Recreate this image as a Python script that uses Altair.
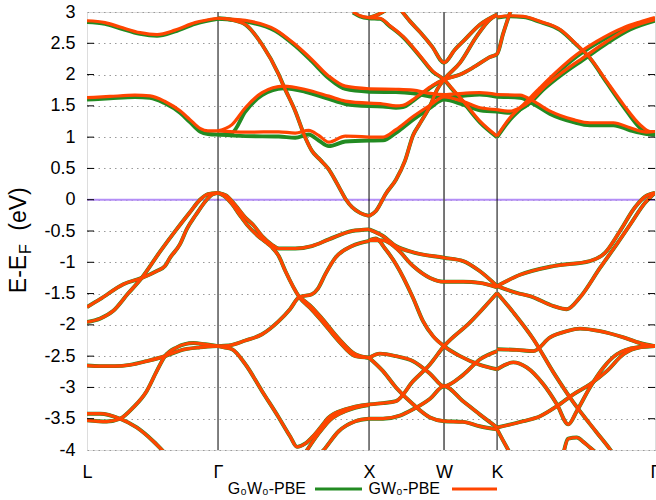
import altair as alt
import pandas as pd

# ---------------- axes / labels ----------------
sym_k = [0.0, 0.872, 1.877, 2.376, 2.729, 3.78]
sym_lab = ["L", "Γ", "X", "W", "K", "Γ"]
y_ticks = [-4, -3.5, -3, -2.5, -2, -1.5, -1, -0.5, 0, 0.5, 1, 1.5, 2, 2.5, 3]
series_names = ["G₀W₀-PBE", "GW₀-PBE"]

# ---------------- bands (k, E_GW0, E_G0W0) ----------------
lg_c1_k = [0, 0.120, 0.220, 0.353, 0.466, 0.586, 0.719, 0.872]
lg_c1_gw = [2.86, 2.83, 2.76, 2.67, 2.64, 2.71, 2.83, 2.90]
lg_c1_g0 = [2.84, 2.81, 2.74, 2.65, 2.62, 2.69, 2.81, 2.89]

lg_c2_k = [0, 0.153, 0.319, 0.419, 0.519, 0.619, 0.685, 0.752, 0.805, 0.872]
lg_c2_gw = [1.63, 1.65, 1.67, 1.66, 1.57, 1.42, 1.28, 1.14, 1.10, 1.10]
lg_c2_g0 = [1.60, 1.62, 1.64, 1.63, 1.54, 1.39, 1.24, 1.09, 1.05, 1.04]

lg_v1_k = [0, 0.087, 0.173, 0.273, 0.364, 0.486, 0.597, 0.685, 0.752, 0.805, 0.872]
lg_v1_e = [-1.955, -1.90, -1.78, -1.50, -1.25, -0.83, -0.47, -0.20, 0.0, 0.09, 0.11]

lg_v2_k = [0, 0.087, 0.242, 0.364, 0.464, 0.519, 0.552, 0.619, 0.664, 0.725, 0.797, 0.832, 0.872]
lg_v2_e = [-1.716, -1.59, -1.35, -1.25, -1.14, -1.06, -0.93, -0.71, -0.47, -0.24, 0.0, 0.08, 0.11]

lg_v3_k = [0, 0.087, 0.186, 0.286, 0.397, 0.519, 0.619, 0.752, 0.872]
lg_v3_e = [-2.65, -2.66, -2.66, -2.64, -2.58, -2.50, -2.41, -2.36, -2.34]

lg_v4_k = [0, 0.131, 0.220, 0.308, 0.397, 0.464, 0.519, 0.597, 0.707, 0.785, 0.872]
lg_v4_e = [-3.525, -3.545, -3.50, -3.32, -3.06, -2.74, -2.50, -2.36, -2.29, -2.31, -2.34]

lg_v5_k = [0, 0.087, 0.220, 0.331, 0.441, 0.519]
lg_v5_e = [-3.42, -3.42, -3.50, -3.64, -3.86, -4.05]

gx_c1_k = [0.872, 1.054, 1.253, 1.386, 1.497, 1.609, 1.719, 1.877]
gx_c1_gw = [2.90, 2.865, 2.72, 2.48, 2.24, 1.975, 1.815, 1.773]
gx_c1_g0 = [2.89, 2.85, 2.70, 2.46, 2.21, 1.94, 1.77, 1.725]

gx_c2_k = [0.872, 0.952, 1.054, 1.165, 1.276, 1.309, 1.386, 1.453, 1.497, 1.551, 1.604,
           1.650, 1.684, 1.724, 1.764, 1.817, 1.877]
gx_c2_e = [2.90, 2.88, 2.80, 2.48, 2.00, 1.815, 1.415, 0.99, 0.78, 0.64, 0.50,
           0.32, 0.17, 0.0, -0.12, -0.21, -0.26]

gx_c3_k = [0.872, 0.965, 1.054, 1.165, 1.309, 1.453, 1.609, 1.719, 1.877]
gx_c3_gw = [1.10, 1.20, 1.47, 1.71, 1.815, 1.762, 1.655, 1.575, 1.543]
gx_c3_g0 = [1.04, 1.07, 1.41, 1.67, 1.78, 1.725, 1.61, 1.53, 1.495]

gx_c4_k = [0.872, 1.054, 1.276, 1.386, 1.475, 1.542, 1.609, 1.719, 1.877]
gx_c4_gw = [1.10, 1.08, 1.085, 1.065, 1.107, 1.027, 0.92, 1.016, 1.0]
gx_c4_g0 = [1.04, 1.016, 1.01, 0.99, 1.043, 0.947, 0.856, 0.93, 0.947]

gx_v1_k = [0.872, 0.925, 0.985, 1.052, 1.105, 1.165, 1.231, 1.276, 1.386, 1.497, 1.609, 1.764, 1.877]
gx_v1_e = [0.11, 0.07, -0.08, -0.28, -0.40, -0.58, -0.72, -0.78, -0.78, -0.74, -0.634, -0.50, -0.475]

gx_v2_k = [0.872, 0.912, 0.965, 1.018, 1.065, 1.138, 1.191, 1.231, 1.276, 1.320, 1.413, 1.497,
           1.564, 1.675, 1.786, 1.877]
gx_v2_e = [0.11, 0.06, -0.07, -0.25, -0.40, -0.58, -0.68, -0.76, -0.90, -1.14, -1.556, -1.76,
           -1.94, -2.26, -2.50, -2.525]

gx_v3_k = [0.872, 0.943, 1.054, 1.165, 1.276, 1.351, 1.413, 1.497, 1.537, 1.586, 1.652, 1.764, 1.877]
gx_v3_e = [-2.34, -2.33, -2.25, -2.15, -1.94, -1.75, -1.556, -1.51, -1.42, -1.19, -0.93, -0.74, -0.66]

gx_v4_k = [1.413, 1.497, 1.564, 1.675, 1.786, 1.877]
gx_v4_e = [-1.556, -1.72, -1.90, -2.22, -2.47, -2.525]

gx_v5_k = [0.872, 0.912, 0.965, 1.054, 1.165, 1.276, 1.351, 1.398, 1.451, 1.497, 1.551, 1.609, 1.719, 1.877]
gx_v5_e = [-2.34, -2.36, -2.39, -2.63, -3.06, -3.48, -3.78, -3.95, -3.90, -3.80, -3.65, -3.48, -3.35, -3.27]

gx_v6_k = [1.451, 1.537, 1.617, 1.717, 1.877]
gx_v6_e = [-4.05, -3.75, -3.52, -3.38, -3.28]

gx_v7_k = [1.537, 1.575, 1.675, 1.786, 1.877]
gx_v7_e = [-4.1, -4.0, -3.70, -3.54, -3.50]

xw_c5_k = [1.770, 1.817, 1.877, 1.950, 2.016, 2.103, 2.216, 2.303, 2.376, 2.429, 2.503, 2.613, 2.729]
xw_c5_gw = [3.0, 2.94, 2.91, 2.90, 2.78, 2.61, 2.30, 2.05, 1.92, 1.78, 1.58, 1.26, 1.016]
xw_c5_g0 = [2.99, 2.93, 2.90, 2.89, 2.77, 2.60, 2.29, 2.04, 1.92, 1.77, 1.56, 1.24, 1.00]

xw_hump_k = [1.877, 1.970, 2.056, 2.170, 2.283, 2.376, 2.503, 2.616, 2.729]
xw_hump_gw = [1.0, 1.0, 1.12, 1.33, 1.51, 1.645, 1.57, 1.47, 1.44]
xw_hump_g0 = [0.947, 0.95, 1.07, 1.28, 1.47, 1.60, 1.52, 1.43, 1.41]

xw_c2_k = [1.877, 2.056, 2.170, 2.283, 2.376, 2.503, 2.613, 2.729]
xw_c2_gw = [1.773, 1.765, 1.75, 1.70, 1.68, 1.70, 1.71, 1.68]
xw_c2_g0 = [1.725, 1.72, 1.70, 1.65, 1.63, 1.66, 1.68, 1.645]

xw_c3_k = [1.877, 1.970, 2.056, 2.103, 2.170, 2.236, 2.303, 2.376, 2.483, 2.582, 2.682, 2.729,
           2.769, 2.815, 2.837]
xw_c3_gw = [1.543, 1.53, 1.50, 1.51, 1.60, 1.72, 1.83, 1.92, 2.00, 2.13, 2.28, 2.33, 2.65, 2.99, 3.15]
xw_c3_g0 = [1.495, 1.49, 1.47, 1.48, 1.58, 1.70, 1.82, 1.92, 2.00, 2.13, 2.28, 2.33, 2.65, 2.99, 3.15]

xw_c4_k = [1.877, 1.923, 1.990, 2.056, 2.116, 2.170, 2.216, 2.283, 2.330, 2.376, 2.483, 2.593, 2.682, 2.729]
xw_c4_e = [-0.26, -0.18, 0.10, 0.32, 0.62, 1.03, 1.22, 1.50, 1.76, 1.92, 2.19, 2.61, 2.88, 2.95]

xw_v_k = [2.083, 2.150, 2.216, 2.296, 2.376, 2.449, 2.503, 2.616, 2.729]
xw_v_e = [3.05, 2.85, 2.68, 2.45, 2.19, 2.40, 2.53, 2.80, 2.96]

xw_top_k = [1.877, 1.937, 1.990]
xw_top_e = [2.91, 2.96, 3.03]

kg_top_k = [2.729, 2.815, 2.904, 3.015, 3.149, 3.259, 3.347, 3.459, 3.570, 3.680, 3.747, 3.780]
kg_top_gw = [2.92, 2.94, 2.93, 2.85, 2.72, 2.48, 2.27, 1.89, 1.52, 1.20, 1.09, 1.09]
kg_top_g0 = [2.91, 2.93, 2.92, 2.84, 2.71, 2.47, 2.26, 1.87, 1.49, 1.15, 1.05, 1.04]

kg_c2_k = [2.729, 2.882, 2.971, 3.082, 3.237, 3.347, 3.503, 3.614, 3.725, 3.780]
kg_c2_gw = [1.68, 1.67, 1.575, 1.415, 1.28, 1.23, 1.23, 1.15, 1.08, 1.09]
kg_c2_g0 = [1.645, 1.63, 1.53, 1.37, 1.24, 1.19, 1.19, 1.11, 1.05, 1.04]

kg_a_k = [2.729, 2.815, 2.904, 3.015, 3.127, 3.259, 3.392, 3.570, 3.680, 3.780]
kg_a_gw = [1.016, 1.31, 1.52, 1.79, 2.05, 2.32, 2.53, 2.75, 2.84, 2.91]
kg_a_g0 = [1.00, 1.28, 1.49, 1.76, 2.02, 2.29, 2.50, 2.72, 2.82, 2.89]

kg_b_k = [2.729, 2.815, 2.882, 2.948, 3.037, 3.171, 3.303, 3.459, 3.614, 3.780]
kg_b_gw = [1.44, 1.415, 1.47, 1.575, 1.79, 2.05, 2.27, 2.53, 2.75, 2.88]
kg_b_g0 = [1.41, 1.39, 1.44, 1.545, 1.76, 2.02, 2.24, 2.50, 2.72, 2.86]

xw_v1_k = [1.877, 1.970, 2.056, 2.170, 2.376, 2.503, 2.613, 2.729]
xw_v1_e = [-0.475, -0.58, -0.74, -0.84, -0.927, -0.98, -1.14, -1.38]

xw_v2_k = [1.877, 1.970, 2.056, 2.170, 2.283, 2.376, 2.503, 2.613, 2.729]
xw_v2_e = [-0.65, -0.65, -0.77, -1.06, -1.25, -1.31, -1.31, -1.33, -1.40]

xw_d_k = [1.877, 1.923, 1.983, 2.056, 2.170, 2.236, 2.303, 2.376, 2.483, 2.616, 2.729]
xw_d_e = [-0.65, -0.62, -0.78, -1.03, -1.57, -1.94, -2.18, -2.34, -2.50, -2.64, -2.71]

xw_r_k = [1.877, 1.970, 2.056, 2.170, 2.283, 2.376, 2.549, 2.729]
xw_r_e = [-3.27, -3.25, -3.22, -2.90, -2.63, -2.34, -1.96, -1.49]

xw_h2_k = [1.877, 1.950, 2.056, 2.170, 2.283, 2.376, 2.503, 2.616, 2.729]
xw_h2_e = [-2.525, -2.46, -2.50, -2.58, -2.78, -2.98, -2.80, -2.55, -2.42]

xw_ds_k = [1.877, 1.970, 2.056, 2.170, 2.283, 2.376, 2.503, 2.613, 2.729]
xw_ds_e = [-2.525, -2.74, -3.0, -3.27, -3.48, -3.54, -3.55, -3.62, -3.67]

xw_lo_k = [1.877, 1.970, 2.083, 2.170, 2.283, 2.376, 2.503, 2.613, 2.729]
xw_lo_e = [-3.50, -3.50, -3.45, -3.35, -3.18, -2.98, -3.22, -3.43, -3.64]

kg_v1_k = [2.729, 2.882, 3.104, 3.347, 3.447, 3.547, 3.647, 3.714, 3.780]
kg_v1_e = [-1.38, -1.20, -1.06, -0.98, -0.85, -0.50, -0.12, 0.05, 0.11]

kg_v2_k = [2.729, 2.860, 2.948, 3.104, 3.193, 3.281, 3.414, 3.526, 3.614, 3.714, 3.780]
kg_v2_e = [-1.38, -1.49, -1.54, -1.70, -1.75, -1.56, -1.09, -0.71, -0.40, -0.05, 0.11]

kg_v3_k = [2.729, 2.837, 2.971, 3.104, 3.237, 3.392, 3.481, 3.514]
kg_v3_e = [-1.49, -1.80, -2.23, -2.76, -3.24, -3.72, -3.99, -4.1]

kg_v4_k = [2.729, 2.860, 2.971, 3.082, 3.193, 3.281, 3.414, 3.570, 3.680, 3.780]
kg_v4_e = [-2.39, -2.40, -2.42, -2.20, -2.10, -2.06, -2.10, -2.20, -2.29, -2.34]

kg_v5_k = [2.729, 2.837, 2.926, 3.037, 3.127, 3.203, 3.259, 3.347, 3.437, 3.526, 3.659, 3.780]
kg_v5_e = [-2.71, -2.60, -2.68, -2.95, -3.27, -3.59, -3.38, -3.00, -2.68, -2.47, -2.36, -2.34]

kg_v6_k = [2.729, 2.904, 3.015, 3.127, 3.237, 3.347, 3.459, 3.570, 3.680, 3.780]
kg_v6_e = [-3.64, -3.54, -3.46, -3.30, -3.11, -2.95, -2.74, -2.47, -2.36, -2.34]

kg_b1_k = [2.729, 2.769, 2.815]
kg_b1_e = [-3.67, -3.85, -4.05]

kg_b2_k = [3.171, 3.203, 3.259, 3.303, 3.347, 3.392]
kg_b2_e = [-4.05, -3.82, -3.80, -3.87, -3.96, -4.05]

bands = [
    ("lg_c1", lg_c1_k, lg_c1_gw, lg_c1_g0), ("lg_c2", lg_c2_k, lg_c2_gw, lg_c2_g0),
    ("lg_v1", lg_v1_k, lg_v1_e, lg_v1_e), ("lg_v2", lg_v2_k, lg_v2_e, lg_v2_e),
    ("lg_v3", lg_v3_k, lg_v3_e, lg_v3_e), ("lg_v4", lg_v4_k, lg_v4_e, lg_v4_e),
    ("lg_v5", lg_v5_k, lg_v5_e, lg_v5_e),
    ("gx_c1", gx_c1_k, gx_c1_gw, gx_c1_g0), ("gx_c2", gx_c2_k, gx_c2_e, gx_c2_e),
    ("gx_c3", gx_c3_k, gx_c3_gw, gx_c3_g0), ("gx_c4", gx_c4_k, gx_c4_gw, gx_c4_g0),
    ("gx_v1", gx_v1_k, gx_v1_e, gx_v1_e), ("gx_v2", gx_v2_k, gx_v2_e, gx_v2_e),
    ("gx_v3", gx_v3_k, gx_v3_e, gx_v3_e), ("gx_v4", gx_v4_k, gx_v4_e, gx_v4_e),
    ("gx_v5", gx_v5_k, gx_v5_e, gx_v5_e), ("gx_v6", gx_v6_k, gx_v6_e, gx_v6_e),
    ("gx_v7", gx_v7_k, gx_v7_e, gx_v7_e),
    ("xw_c5", xw_c5_k, xw_c5_gw, xw_c5_g0), ("xw_hump", xw_hump_k, xw_hump_gw, xw_hump_g0),
    ("xw_c2", xw_c2_k, xw_c2_gw, xw_c2_g0), ("xw_c3", xw_c3_k, xw_c3_gw, xw_c3_g0),
    ("xw_c4", xw_c4_k, xw_c4_e, xw_c4_e), ("xw_v", xw_v_k, xw_v_e, xw_v_e),
    ("xw_top", xw_top_k, xw_top_e, xw_top_e),
    ("kg_top", kg_top_k, kg_top_gw, kg_top_g0), ("kg_c2", kg_c2_k, kg_c2_gw, kg_c2_g0),
    ("kg_a", kg_a_k, kg_a_gw, kg_a_g0), ("kg_b", kg_b_k, kg_b_gw, kg_b_g0),
    ("xw_v1", xw_v1_k, xw_v1_e, xw_v1_e), ("xw_v2", xw_v2_k, xw_v2_e, xw_v2_e),
    ("xw_d", xw_d_k, xw_d_e, xw_d_e), ("xw_r", xw_r_k, xw_r_e, xw_r_e),
    ("xw_h2", xw_h2_k, xw_h2_e, xw_h2_e), ("xw_ds", xw_ds_k, xw_ds_e, xw_ds_e),
    ("xw_lo", xw_lo_k, xw_lo_e, xw_lo_e),
    ("kg_v1", kg_v1_k, kg_v1_e, kg_v1_e), ("kg_v2", kg_v2_k, kg_v2_e, kg_v2_e),
    ("kg_v3", kg_v3_k, kg_v3_e, kg_v3_e), ("kg_v4", kg_v4_k, kg_v4_e, kg_v4_e),
    ("kg_v5", kg_v5_k, kg_v5_e, kg_v5_e), ("kg_v6", kg_v6_k, kg_v6_e, kg_v6_e),
    ("kg_b1", kg_b1_k, kg_b1_e, kg_b1_e), ("kg_b2", kg_b2_k, kg_b2_e, kg_b2_e),
]

rows = []
for name, ks, gw, g0 in bands:
    assert len(ks) == len(gw) == len(g0), name
    for k, e_gw, e_g0 in zip(ks, gw, g0):
        rows.append({"band": name, "k": k, "series": series_names[1], "E": e_gw})
        rows.append({"band": name, "k": k, "series": series_names[0], "E": e_g0})
df = pd.DataFrame(rows)

FONT = "Liberation Sans"
W, H = 568, 438
GREEN = "#228b22"
ORANGE = "#ff4500"

lab_expr = ""
for i in range(len(sym_k) - 1):
    mid = (sym_k[i] + sym_k[i + 1]) / 2
    lab_expr += f"datum.value < {mid:.4f} ? '{sym_lab[i]}' : "
lab_expr += f"'{sym_lab[-1]}'"

X_ENC = alt.X(
    "k:Q",
    scale=alt.Scale(domain=[0, 3.78], nice=False, zero=False),
    axis=alt.Axis(values=sym_k, labelExpr=lab_expr, ticks=False, domain=False, grid=False,
                  labelFont=FONT, labelFontSize=18, labelColor="black", labelPadding=13,
                  labelFlush=False, labelOverlap=False, title=None),
)
Y_ENC = alt.Y(
    "E:Q",
    scale=alt.Scale(domain=[-4, 3], nice=False, zero=False),
    axis=alt.Axis(values=y_ticks, labelExpr="datum.value + ''", ticks=False, domain=False,
                  grid=True, gridDash=[1.5, 4], gridColor="#9a9a9a", gridWidth=1.2,
                  labelFont=FONT, labelFontSize=18, labelColor="black", labelPadding=12,
                  labelOverlap=False, title=None),
)

base = alt.Chart(df)
green = base.transform_filter(alt.datum.series == series_names[0]).mark_line(
    color=GREEN, strokeWidth=3.9, interpolate="monotone", clip=True
).encode(x=X_ENC, y=Y_ENC, detail="band:N")
orange = base.transform_filter(alt.datum.series == series_names[1]).mark_line(
    color=ORANGE, strokeWidth=3.2, interpolate="monotone", clip=True
).encode(x=X_ENC, y=Y_ENC, detail="band:N")

zero_df = pd.DataFrame({"E": [0.0]})
zero_line = alt.Chart(zero_df).mark_rule(color="#b48ef7", strokeWidth=2).encode(y=Y_ENC)

vl_df = pd.DataFrame({"k": sym_k[1:5], "c": ["black", "black", "#555555", "black"],
                      "w": [1.0, 1.0, 1.6, 1.0]})
vlines = alt.Chart(vl_df).mark_rule().encode(
    x=X_ENC, color=alt.Color("c:N", scale=None), strokeWidth=alt.StrokeWidth("w:Q", scale=None))

tick_df = pd.DataFrame({"E": y_ticks[1:-1]})
ticks_l = alt.Chart(tick_df).mark_rule(color="black", strokeWidth=1).encode(
    y=Y_ENC, x=alt.value(0), x2=alt.value(7))
ticks_r = alt.Chart(tick_df).mark_rule(color="black", strokeWidth=1).encode(
    y=Y_ENC, x=alt.value(W - 7), x2=alt.value(W))

one = pd.DataFrame({"a": [0]})
def txt(s, x, y, size=18, angle=0, align="center"):
    return alt.Chart(one).mark_text(
        font=FONT, fontSize=size, color="black", angle=angle, align=align, baseline="middle"
    ).encode(x=alt.value(x), y=alt.value(y), text=alt.value(s))

ytitle = (
    txt("E-E", -68, 262, size=23, angle=270)
    + txt("F", -61, 237, size=16, angle=270)
    + txt("(eV)", -68, 197, size=23, angle=270)
)

leg_y = 477
legend = (
    txt(series_names[0], 219, leg_y, size=16, align="right")
    + alt.Chart(one).mark_rule(color=GREEN, strokeWidth=3).encode(
        x=alt.value(228), x2=alt.value(275), y=alt.value(leg_y))
    + txt(series_names[1], 353, leg_y, size=16, align="right")
    + alt.Chart(one).mark_rule(color=ORANGE, strokeWidth=3).encode(
        x=alt.value(365), x2=alt.value(410), y=alt.value(leg_y))
)

chart = alt.layer(
    zero_line, vlines, green, orange, ticks_l, ticks_r, ytitle, legend
).properties(
    width=W, height=H,
    autosize=alt.AutoSizeParams(type="none"),
    padding={"left": 87, "top": 12, "right": 1, "bottom": 50},
).configure_view(stroke="black", strokeWidth=1.2).configure(background="white")

chart.save("out.html", embed_options={"renderer": "svg", "actions": False})
